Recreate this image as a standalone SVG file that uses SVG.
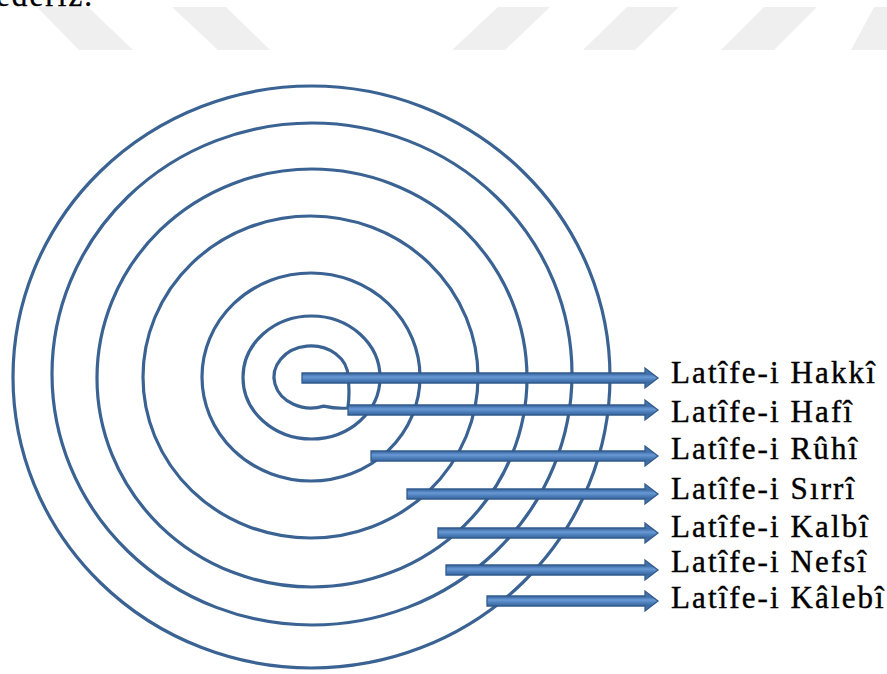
<svg xmlns="http://www.w3.org/2000/svg" width="887" height="674" viewBox="0 0 887 674">
<defs>
<linearGradient id="ag" x1="0" y1="0" x2="0" y2="1">
<stop offset="0" stop-color="#4a7bb7"/>
<stop offset="0.3" stop-color="#3f6ea8"/>
<stop offset="0.45" stop-color="#6a9ad6"/>
<stop offset="0.58" stop-color="#4f81bd"/>
<stop offset="0.72" stop-color="#3d6aa2"/>
<stop offset="1" stop-color="#4a7bb7"/>
</linearGradient>
</defs>
<style>
.wm{fill:#efefef}
.ring{fill:none;stroke:#3a6393;stroke-width:3.2}
.arrow{fill:url(#ag);stroke:#325b8c;stroke-width:1.3;stroke-linejoin:miter}
.lbl{font-family:"Liberation Serif","Times New Roman",serif;font-size:31px;letter-spacing:2.1px;fill:#000;stroke:#000;stroke-width:0.4}
</style>
<rect width="887" height="674" fill="#fff"/>
<g id="watermark">
<polygon class="wm" points="37,7 88,7 133,50 79,50"/>
<polygon class="wm" points="172,7 226,7 270,50 218,50"/>
<polygon class="wm" points="498,7 550,7 505,50 452,50"/>
<polygon class="wm" points="627,7 679,7 635,50 583,50"/>
<polygon class="wm" points="764,7 817,7 774,50 721,50"/>
<polygon class="wm" points="874,7 900,7 900,50 851,50"/>
</g>
<text class="lbl" x="-4" y="6">ederiz.</text>
<g id="rings">
<path id="ring1" class="ring" d="M 348 407 Q 350 392 348 377 A 37 31 0 1 0 323.7 406.1 Q 337 409 348 408"/>
<ellipse id="ring2" class="ring" cx="311.5" cy="377.5" rx="68.5" ry="61.5"/>
<ellipse id="ring3" class="ring" cx="311" cy="377" rx="109" ry="104"/>
<ellipse id="ring4" class="ring" cx="310.5" cy="377" rx="167.5" ry="161"/>
<ellipse id="ring5" class="ring" cx="312" cy="378" rx="215" ry="209"/>
<ellipse id="ring6" class="ring" cx="312" cy="374" rx="260" ry="251"/>
<ellipse id="ring7" class="ring" cx="311.5" cy="377" rx="298.5" ry="291"/>
</g>
<g id="connectors">
<path class="arrow" d="M302 373H645V368L658 378L645 388V383H302Z"/>
<path class="arrow" d="M348 405H645V400L658 410L645 420V415H348Z"/>
<path class="arrow" d="M371 451H645V446L658 456L645 466V461H371Z"/>
<path class="arrow" d="M407 489H645V484L658 494L645 504V499H407Z"/>
<path class="arrow" d="M438 528H645V523L658 533L645 543V538H438Z"/>
<path class="arrow" d="M446 565H645V560L658 570L645 580V575H446Z"/>
<path class="arrow" d="M487 596H645V591L658 601L645 611V606H487Z"/>
</g>
<g id="label-hakki"><text class="lbl" x="671" y="383">Latîfe-i Hakkî</text></g>
<g id="label-hafi"><text class="lbl" x="671" y="422">Latîfe-i Hafî</text></g>
<g id="label-ruhi"><text class="lbl" x="671" y="459">Latîfe-i Rûhî</text></g>
<g id="label-sirri"><text class="lbl" x="671" y="499">Latîfe-i Sırrî</text></g>
<g id="label-kalbi"><text class="lbl" x="671" y="537">Latîfe-i Kalbî</text></g>
<g id="label-nefsi"><text class="lbl" x="671" y="572">Latîfe-i Nefsî</text></g>
<g id="label-kalebi"><text class="lbl" x="671" y="608">Latîfe-i Kâlebî</text></g>
</svg>
